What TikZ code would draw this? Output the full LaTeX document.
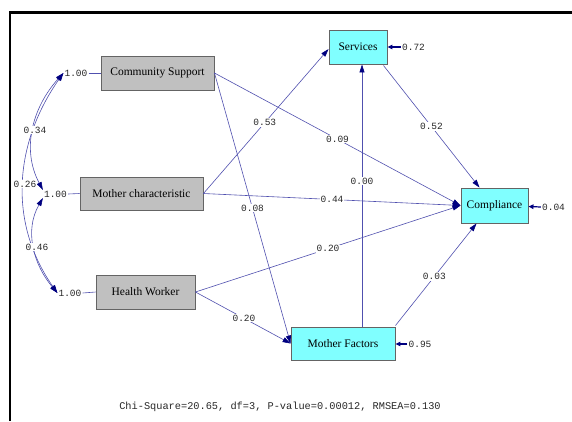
\documentclass[tikz,border=0pt]{standalone}
\usepackage{fontspec}
\setmainfont{Liberation Serif}
\newfontfamily\monof{Liberation Mono}
\usetikzlibrary{arrows.meta}
\definecolor{lineblue}{RGB}{80,80,175}
\definecolor{headblue}{RGB}{0,0,128}
\definecolor{exofill}{RGB}{192,192,192}
\definecolor{endofill}{RGB}{128,255,255}
\definecolor{boxline}{RGB}{100,100,100}
\definecolor{labtext}{RGB}{40,40,40}
\begin{document}
\begin{tikzpicture}[x=1pt,y=1pt,
  box/.style={draw=boxline, line width=0.9pt, inner sep=0pt, font=\rmfamily\fontsize{11.5}{13}\selectfont},
  exo/.style={box, fill=exofill},
  endo/.style={box, fill=endofill},
  lab/.style={font=\monof\fontsize{9.5}{11}\selectfont, text=labtext, fill=white, inner sep=1pt},
  path/.style={draw=lineblue, line width=0.6pt, -{Triangle[length=8pt,width=5pt,color=headblue]}},
  cov/.style={draw=lineblue, line width=0.6pt, {Triangle[length=8pt,width=5pt,color=headblue]}-{Triangle[length=8pt,width=5pt,color=headblue]}},
  err/.style={draw=headblue, line width=1.2pt, -{Triangle[length=5pt,width=4.5pt]}},
  link/.style={draw=lineblue, line width=0.6pt}
]
\useasboundingbox (0,0) rectangle (572,-421);
\fill[white] (0,0) rectangle (572,-421);
% frame
\draw[line width=2.2pt] (9.7,-421) -- (9.7,-12.5) -- (572,-12.5);

% boxes
\node[exo, minimum width=113pt, minimum height=34pt] (cs) at (157.5,-73) {Community Support};
\node[exo, minimum width=123pt, minimum height=33pt] (mc) at (141.5,-193.5) {Mother characteristic};
\node[exo, minimum width=99pt, minimum height=34pt] (hw) at (145.5,-292) {Health Worker};
\node[endo, minimum width=58pt, minimum height=34pt] (sv) at (358,-47) {Services};
\node[endo, minimum width=67pt, minimum height=35pt] (co) at (494.5,-205.5) {Compliance};
\node[endo, minimum width=104pt, minimum height=33pt] (mf) at (343,-343.5) {Mother Factors};

% exogenous variances
\node[lab] (cs1) at (76,-73) {1.00};
\node[lab] (mc1) at (55.5,-194) {1.00};
\node[lab] (hw1) at (70,-293) {1.00};
\draw[link] (cs1.east) -- (cs.west);
\draw[link] (mc1.east) -- (mc.west);
\draw[link] (hw1.east) -- (hw.west);

% covariances
\draw[cov] (cs1.west) to[out=228,in=118] ([yshift=4pt]mc1.west);
\draw[cov] (cs1.west) to[out=235,in=125] (hw1.west);
\draw[cov] ([yshift=-4pt]mc1.west) to[out=240,in=130] (hw1.west);
\node[lab] (k1) at (35,-130) {0.34};
\node[lab] (k2) at (25,-184) {0.26};
\node[lab] (k3) at (37,-247) {0.46};

% paths
\draw[path] (cs.east) -- node[lab, pos=0.5] (p1) {0.09} (co.west);
\draw[path] (cs.east) -- node[lab, pos=0.5] (p2) {0.08} (mf.west);
\draw[path] (mc.east) -- node[lab, pos=0.49] (p3) {0.53} ([yshift=-2pt]sv.west);
\draw[path] (mc.east) -- node[lab, pos=0.5] (p4) {0.44} (co.west);
\draw[path] (hw.east) -- node[lab, pos=0.5] (p5) {0.20} (co.west);
\draw[path] (hw.east) -- node[lab, pos=0.51] (p6) {0.20} (mf.west);
\draw[path] ([xshift=4pt]sv.south |- mf.north) -- node[lab, pos=0.555] (p7) {0.00} ([xshift=4pt]sv.south);
\draw[path] ([xshift=-4pt,yshift=-1pt]sv.south east) -- node[lab, pos=0.5] (p8) {0.52} ([xshift=-15pt]co.north);
\draw[path] ([yshift=1pt]mf.north east) -- node[lab, pos=0.48] (p9) {0.03} ([xshift=-18pt]co.south);

% error terms
\node[lab] (e1) at (413.5,-47) {0.72};
\node[lab] (e2) at (553.5,-207) {0.04};
\node[lab] (e3) at (420,-344) {0.95};
\draw[err] (e1.west) -- (sv.east);
\draw[err] (e2.west) -- ([yshift=-1pt]co.east);
\draw[err] (e3.west) -- (e3.west -| mf.east);

% fit statistics
\node[font=\monof\fontsize{10.3}{12}\selectfont, text=labtext, inner sep=0pt] (fit) at (280,-407) {Chi-Square=20.65, df=3, P-value=0.00012, RMSEA=0.130};
\end{tikzpicture}
\end{document}
